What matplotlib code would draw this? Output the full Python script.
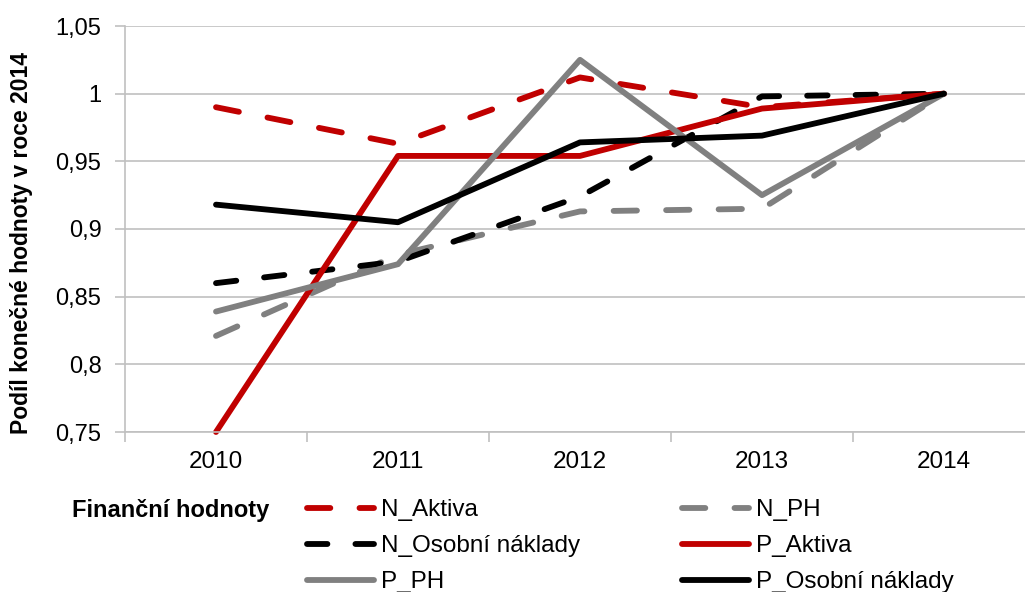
import matplotlib
matplotlib.use("Agg")
import matplotlib.pyplot as plt

plt.rcParams['font.family'] = ['Liberation Sans', 'DejaVu Sans']

years = ["2010", "2011", "2012", "2013", "2014"]
y_tick_values = [0.75, 0.8, 0.85, 0.9, 0.95, 1.0, 1.05]
y_tick_labels = ["0,75", "0,8", "0,85", "0,9", "0,95", "1", "1,05"]

n_aktiva = [0.990, 0.963, 1.012, 0.990, 1.000]
n_ph = [0.821, 0.881, 0.913, 0.915, 1.000]
n_osobni = [0.860, 0.876, 0.924, 0.998, 1.000]
p_aktiva = [0.750, 0.954, 0.954, 0.989, 1.000]
p_ph = [0.839, 0.874, 1.025, 0.925, 1.000]
p_osobni = [0.918, 0.905, 0.964, 0.969, 1.000]

RED = "#C00000"
GRAY = "#808080"
BLACK = "#000000"
GRID = "#C0C0C0"

W, H = 1025, 592
fig = plt.figure(figsize=(W / 100, H / 100), dpi=100)
ax = fig.add_axes([125 / W, (H - 432) / H, 910 / W, 406 / H])

x = list(range(len(years)))
lw = 4.2

series = [
    ("N_Aktiva", n_aktiva, RED, (4.0, 5.0)),
    ("N_PH", n_ph, GRAY, (4.0, 5.0)),
    ("N_Osobní náklady", n_osobni, BLACK, (3.5, 4.8)),
    ("P_Aktiva", p_aktiva, RED, None),
    ("P_PH", p_ph, GRAY, None),
    ("P_Osobní náklady", p_osobni, BLACK, None),
]
handles = {}
for name, vals, col, dash in series:
    if dash:
        ln, = ax.plot(x, vals, color=col, lw=lw, linestyle=(0, dash),
                      dash_capstyle='round', dash_joinstyle='round', label=name)
    else:
        ln, = ax.plot(x, vals, color=col, lw=lw, solid_capstyle='round',
                      solid_joinstyle='round', label=name)
    ln.set_clip_on(False)
    handles[name] = ln

ax.set_xlim(-0.5, 4.5)
ax.set_ylim(0.75, 1.05)
ax.set_yticks(y_tick_values)
ax.set_yticklabels(y_tick_labels)
ax.set_xticks(x)
ax.set_xticklabels(years)
ax.set_xticks([i - 0.5 for i in range(len(years) + 1)], minor=True)
ax.tick_params(axis='x', which='major', length=0, pad=14, labelsize=17.5)
ax.tick_params(axis='x', which='minor', length=7, width=1.2, color=GRID)
ax.tick_params(axis='y', length=7, width=1.2, color=GRID, pad=10, labelsize=17)
ax.yaxis.grid(True, color=GRID, lw=1.2)
ax.set_axisbelow(True)
for s in ['top', 'right']:
    ax.spines[s].set_visible(False)
for s in ['left', 'bottom']:
    ax.spines[s].set_color(GRID)
    ax.spines[s].set_linewidth(1.2)

ax.set_ylabel("Podíl konečné hodnoty v roce 2014", fontsize=16.5, fontweight='bold')
ax.yaxis.set_label_coords((33 - 125) / 910, (432 - 243) / 406)

fig.text(72 / W, 1 - 510 / H, "Finanční hodnoty", fontsize=17, fontweight='bold',
         ha='left', va='center')

order = ["N_Aktiva", "N_Osobní náklady", "P_PH", "N_PH", "P_Aktiva", "P_Osobní náklady"]
leg = fig.legend([handles[n] for n in order], order, ncol=2, frameon=False,
                 loc='upper left', bbox_to_anchor=(307 / W, 1 - 499 / H),
                 fontsize=17.5, handlelength=2.75, handletextpad=0.3,
                 columnspacing=4.2, labelspacing=0.58, borderaxespad=0, borderpad=0)

fig.savefig("out.png", dpi=100)
